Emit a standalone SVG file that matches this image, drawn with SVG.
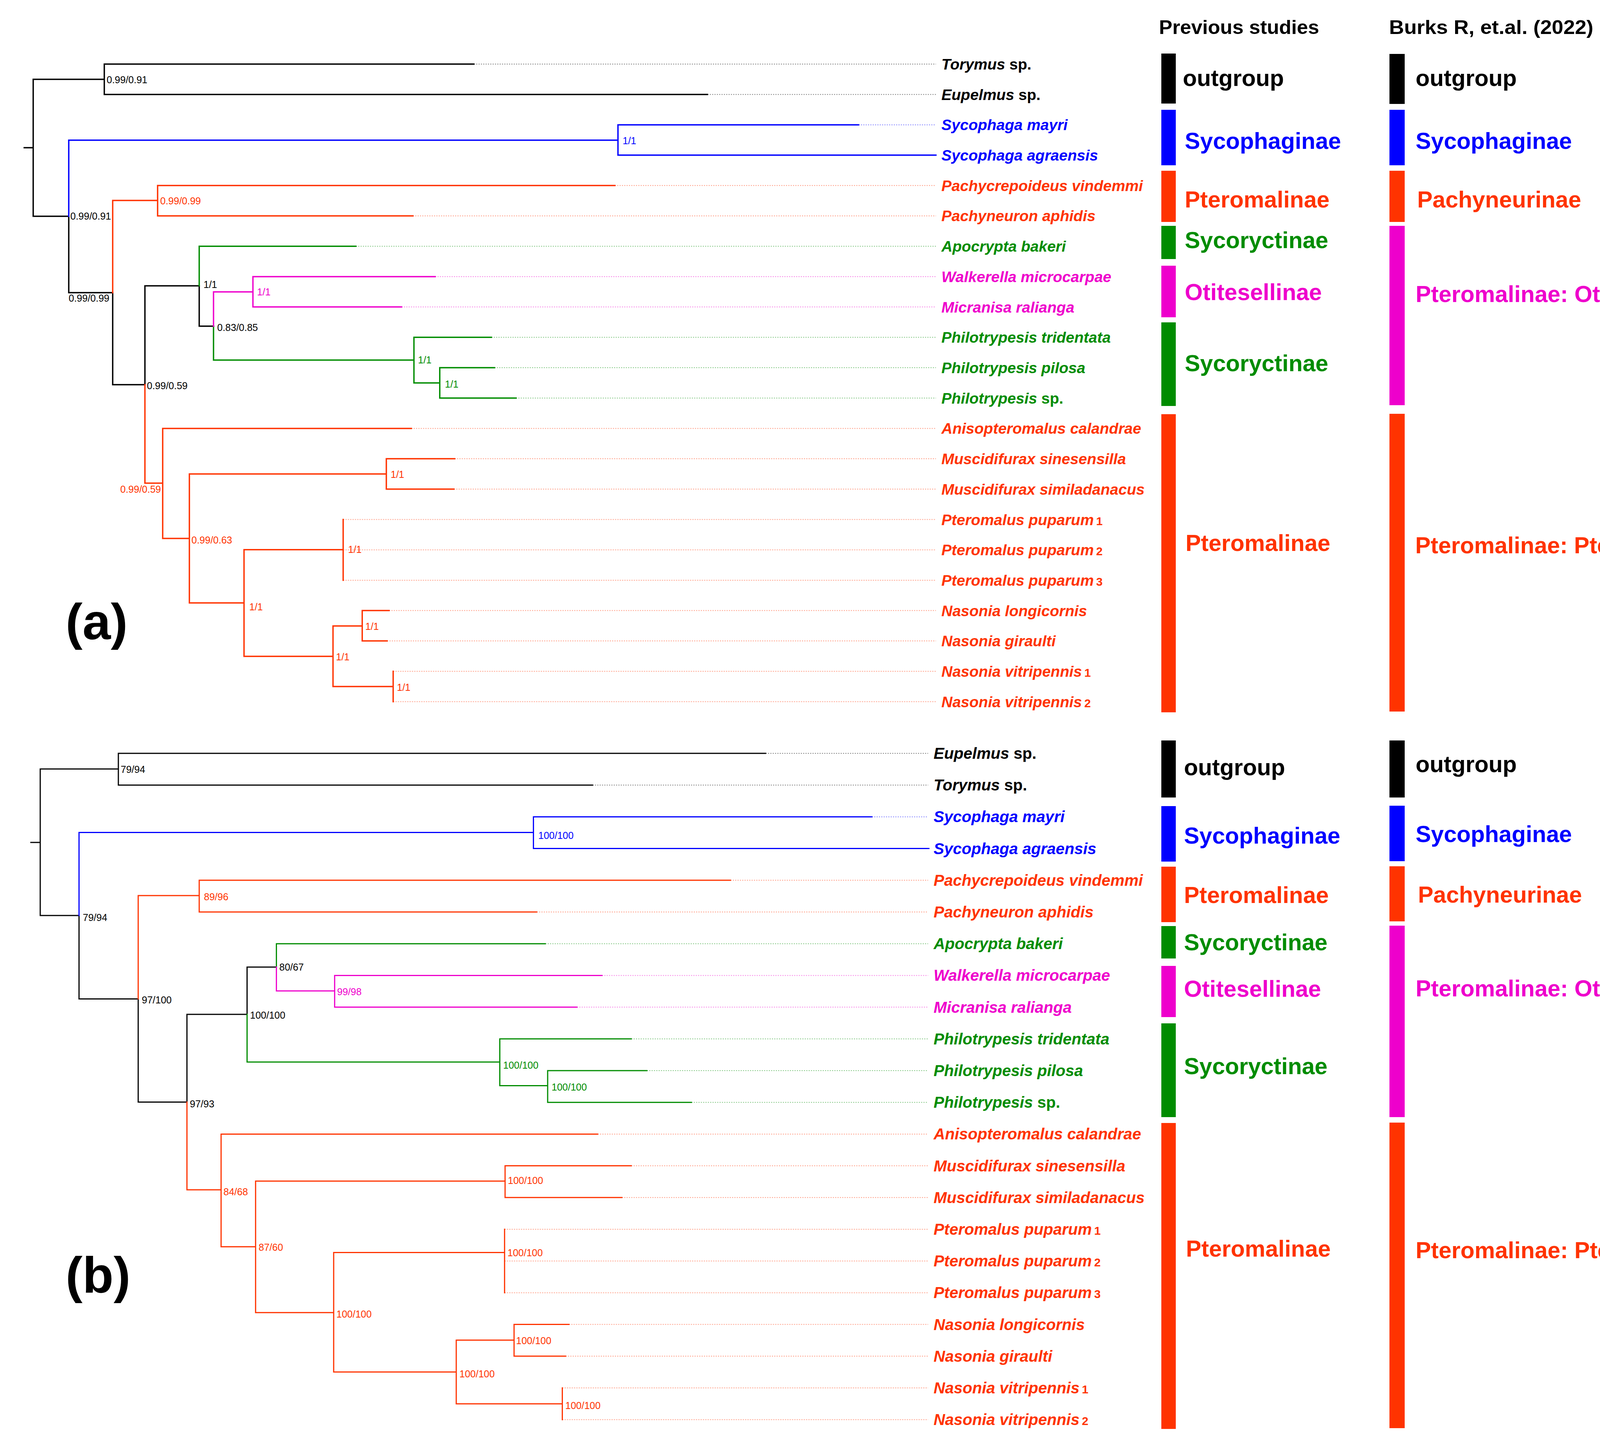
<svg xmlns="http://www.w3.org/2000/svg" width="4402" height="3693" viewBox="0 0 4402 3693">
<style>
path{fill:none;stroke-linecap:square}
.A path{stroke-width:3.5}
.B path{stroke-width:3}
.k{stroke:#000}.b{stroke:#0000FF}.r{stroke:#FF3300}.g{stroke:#008C00}.m{stroke:#EE00CC}
.dot path{stroke-width:2;stroke-dasharray:3 3;opacity:.45;stroke-linecap:butt}
text{font-family:"Liberation Sans",Arial,sans-serif}
.spA{font-size:39px;font-weight:bold;font-style:italic}
.spB{font-size:40.5px;font-weight:bold;font-style:italic}
.sup{font-size:25px}
.grp{font-size:59px;font-weight:bold}
.hdr{font-size:50px;font-weight:bold}
.lbl{font-size:130px;font-weight:bold}
.tk{fill:#000}.tb{fill:#0000FF}.tr{fill:#FF3300}.tg{fill:#008C00}.tm{fill:#EE00CC}
.num{font-style:normal;font-size:30px}
</style>
<rect width="4402" height="3693" fill="#fff"/>

<g id="connectors">
<g class="A">
<path class="k" d="M62,378H85M85,203V553.6M85,203H267M267,164V241.7M267,164H1213M267,241.7H1811M85,553.6H176M176,553.6V749M176,749H288.5M288.5,749V984.6M288.5,984.6H371M371,731.6V984.6M371,731.6H510M510,731.6V834.7M510,834.7H546.6"/>
<path class="b" d="M176,358.7V553.6M176,358.7H1582M1582,319.4V397.1M1582,319.4H2198M1582,397.1H2396"/>
<path class="r" d="M288.5,513V749M288.5,513H403.5M403.5,474.8V552.5M403.5,474.8H1574M403.5,552.5H1057"/>
<path class="g" d="M510,630.2V731.6M510,630.2H911M546.6,834.7V921.4M546.6,921.4H1059.7M1059.7,863.3V980M1059.7,863.3H1258M1059.7,980H1125.8M1125.8,941V1018.7M1125.8,941H1266M1125.8,1018.7H1321"/>
<path class="m" d="M546.6,747V834.7M546.6,747H647.5M647.5,707.9V785.6M647.5,707.9H1114M647.5,785.6H1028"/>
<path class="r" d="M371,984.6V1236.5M371,1236.5H416.5M416.5,1096.4V1378M416.5,1096.4H1053M416.5,1378H484.8M484.8,1213V1543M484.8,1213H989M989,1174.1V1251.8M989,1174.1H1164M989,1251.8H1162M484.8,1543H624.7M624.7,1406.8V1679.7M624.7,1406.8H878.5M878.5,1329.5V1484.9M624.7,1679.7H852.5M852.5,1602V1757M852.5,1602H927.3M927.3,1562.6V1640.3M927.3,1562.6H996M927.3,1640.3H991M852.5,1757H1006.5M1006.5,1718V1795.7"/>
</g>
<g class="dot">
<path class="k" d="M1213,164H2396M1811,241.7H2396"/>
<path class="b" d="M2198,319.4H2396"/>
<path class="r" d="M1574,474.8H2396M1057,552.5H2396M1053,1096.4H2396M1164,1174.1H2396M1162,1251.8H2396M878.5,1329.5H2396M878.5,1407.2H2396M878.5,1484.9H2396M996,1562.6H2396M991,1640.3H2396M1006.5,1718H2396M1006.5,1795.7H2396"/>
<path class="g" d="M911,630.2H2396M1258,863.3H2396M1266,941H2396M1321,1018.7H2396"/>
<path class="m" d="M1114,707.9H2396M1028,785.6H2396"/>
</g>
<g class="B">
<path class="k" d="M79,2156H103M103,1968V2343M103,1968H303M303,1928V2009.2M303,1928H1960M303,2009.2H1517M103,2343H202.3M202.3,2343V2556.6M202.3,2556.6H353.8M353.8,2556.6V2820.6M353.8,2820.6H478.6M478.6,2596V2820.6M478.6,2596H632.5M632.5,2475V2596M632.5,2475H707.6"/>
<path class="b" d="M202.3,2130.6V2343M202.3,2130.6H1365.6M1365.6,2090.4V2171.6M1365.6,2090.4H2232M1365.6,2171.6H2378"/>
<path class="r" d="M353.8,2292V2556.6M353.8,2292H510M510,2252.8V2334M510,2252.8H1870M510,2334H1374"/>
<path class="g" d="M707.6,2415.2V2475M707.6,2415.2H1396M632.5,2596V2718M632.5,2718H1279.5M1279.5,2658.8V2778.6M1279.5,2658.8H1616M1279.5,2778.6H1402M1402,2740V2821.2M1402,2740H1656M1402,2821.2H1770"/>
<path class="m" d="M707.6,2475V2536M707.6,2536H856.7M856.7,2496.4V2577.6M856.7,2496.4H1541M856.7,2577.6H1477"/>
<path class="r" d="M478.6,2820.6V3045M478.6,3045H566M566,2902.4V3190.7M566,2902.4H1530M566,3190.7H654.3M654.3,3022.7V3359.2M654.3,3022.7H1293M1293,2983.6V3064.8M1293,2983.6H1616M1293,3064.8H1592M654.3,3359.2H854.2M854.2,3205.5V3511.3M854.2,3205.5H1291.7M1291.7,3146V3308.4M854.2,3511.3H1168M1168,3429.8V3592.7M1168,3429.8H1316M1316,3389.6V3470.8M1316,3389.6H1456.5M1316,3470.8H1448M1168,3592.7H1439.5M1439.5,3552V3633.2"/>
</g>
<g class="dot">
<path class="k" d="M1960,1928H2376M1517,2009.2H2376"/>
<path class="b" d="M2232,2090.4H2376"/>
<path class="r" d="M1870,2252.8H2376M1374,2334H2376M1530,2902.4H2376M1616,2983.6H2376M1592,3064.8H2376M1291.7,3146H2376M1291.7,3227.2H2376M1291.7,3308.4H2376M1456.5,3389.6H2376M1448,3470.8H2376M1439.5,3552H2376M1439.5,3633.2H2376"/>
<path class="g" d="M1396,2415.2H2376M1616,2658.8H2376M1656,2740H2376M1770,2821.2H2376"/>
<path class="m" d="M1541,2496.4H2376M1477,2577.6H2376"/>
</g>
</g>

<g id="support-a" class="sup">
<text class="tk" x="273" y="213">0.99/0.91</text>
<text class="tb" x="1594" y="369">1/1</text>
<text class="tr" x="410" y="523">0.99/0.99</text>
<text class="tk" x="180" y="562">0.99/0.91</text>
<text class="tk" x="280" y="772" text-anchor="end">0.99/0.99</text>
<text class="tk" x="521" y="737">1/1</text>
<text class="tm" x="658" y="756">1/1</text>
<text class="tk" x="556" y="847">0.83/0.85</text>
<text class="tg" x="1070" y="930">1/1</text>
<text class="tg" x="1139" y="992">1/1</text>
<text class="tk" x="376" y="996">0.99/0.59</text>
<text class="tr" x="412" y="1261" text-anchor="end">0.99/0.59</text>
<text class="tr" x="1000" y="1223">1/1</text>
<text class="tr" x="490" y="1391">0.99/0.63</text>
<text class="tr" x="891" y="1415">1/1</text>
<text class="tr" x="638" y="1562">1/1</text>
<text class="tr" x="935" y="1612">1/1</text>
<text class="tr" x="860" y="1690">1/1</text>
<text class="tr" x="1016" y="1768">1/1</text>
</g>

<g id="support-b" class="sup">
<text class="tk" x="309" y="1978">79/94</text>
<text class="tb" x="1378" y="2147">100/100</text>
<text class="tr" x="522" y="2304">89/96</text>
<text class="tk" x="212" y="2357">79/94</text>
<text class="tk" x="715" y="2484">80/67</text>
<text class="tm" x="863" y="2547">99/98</text>
<text class="tk" x="363" y="2568">97/100</text>
<text class="tk" x="640" y="2607">100/100</text>
<text class="tg" x="1288" y="2735">100/100</text>
<text class="tg" x="1412" y="2791">100/100</text>
<text class="tk" x="486" y="2834">97/93</text>
<text class="tr" x="1300" y="3030">100/100</text>
<text class="tr" x="572" y="3059">84/68</text>
<text class="tr" x="662" y="3201">87/60</text>
<text class="tr" x="1299" y="3215">100/100</text>
<text class="tr" x="861" y="3372">100/100</text>
<text class="tr" x="1321" y="3440">100/100</text>
<text class="tr" x="1176" y="3525">100/100</text>
<text class="tr" x="1447" y="3606">100/100</text>
</g>

<g id="tips-a" class="spA">
<text id="a-torymus" class="tk" x="2410" y="178">Torymus <tspan font-style="normal">sp.</tspan></text>
<text id="a-eupelmus" class="tk" x="2410" y="256">Eupelmus <tspan font-style="normal">sp.</tspan></text>
<text id="a-smayri" class="tb" x="2410" y="333">Sycophaga mayri</text>
<text id="a-sagra" class="tb" x="2410" y="411">Sycophaga agraensis</text>
<text id="a-pachyc" class="tr" x="2410" y="489">Pachycrepoideus vindemmi</text>
<text id="a-pachyn" class="tr" x="2410" y="566">Pachyneuron aphidis</text>
<text id="a-apoc" class="tg" x="2410" y="644">Apocrypta bakeri</text>
<text id="a-walk" class="tm" x="2410" y="722">Walkerella microcarpae</text>
<text id="a-micr" class="tm" x="2410" y="800">Micranisa ralianga</text>
<text id="a-ptri" class="tg" x="2410" y="877">Philotrypesis tridentata</text>
<text id="a-ppil" class="tg" x="2410" y="955">Philotrypesis pilosa</text>
<text id="a-psp" class="tg" x="2410" y="1033">Philotrypesis <tspan font-style="normal">sp.</tspan></text>
<text id="a-aniso" class="tr" x="2410" y="1110">Anisopteromalus calandrae</text>
<text id="a-msin" class="tr" x="2410" y="1188">Muscidifurax sinesensilla</text>
<text id="a-msim" class="tr" x="2410" y="1266">Muscidifurax similadanacus</text>
<text id="a-pp1" class="tr" x="2410" y="1344">Pteromalus puparum<tspan class="num" dx="6">1</tspan></text>
<text id="a-pp2" class="tr" x="2410" y="1421">Pteromalus puparum<tspan class="num" dx="6">2</tspan></text>
<text id="a-pp3" class="tr" x="2410" y="1499">Pteromalus puparum<tspan class="num" dx="6">3</tspan></text>
<text id="a-nlon" class="tr" x="2410" y="1577">Nasonia longicornis</text>
<text id="a-ngir" class="tr" x="2410" y="1654">Nasonia giraulti</text>
<text id="a-nv1" class="tr" x="2410" y="1732">Nasonia vitripennis<tspan class="num" dx="6">1</tspan></text>
<text id="a-nv2" class="tr" x="2410" y="1810">Nasonia vitripennis<tspan class="num" dx="6">2</tspan></text>
</g>

<g id="tips-b" class="spB">
<text id="b-eupelmus" class="tk" x="2390" y="1942">Eupelmus <tspan font-style="normal">sp.</tspan></text>
<text id="b-torymus" class="tk" x="2390" y="2023">Torymus <tspan font-style="normal">sp.</tspan></text>
<text id="b-smayri" class="tb" x="2390" y="2104">Sycophaga mayri</text>
<text id="b-sagra" class="tb" x="2390" y="2186">Sycophaga agraensis</text>
<text id="b-pachyc" class="tr" x="2390" y="2267">Pachycrepoideus vindemmi</text>
<text id="b-pachyn" class="tr" x="2390" y="2348">Pachyneuron aphidis</text>
<text id="b-apoc" class="tg" x="2390" y="2429">Apocrypta bakeri</text>
<text id="b-walk" class="tm" x="2390" y="2510">Walkerella microcarpae</text>
<text id="b-micr" class="tm" x="2390" y="2592">Micranisa ralianga</text>
<text id="b-ptri" class="tg" x="2390" y="2673">Philotrypesis tridentata</text>
<text id="b-ppil" class="tg" x="2390" y="2754">Philotrypesis pilosa</text>
<text id="b-psp" class="tg" x="2390" y="2835">Philotrypesis <tspan font-style="normal">sp.</tspan></text>
<text id="b-aniso" class="tr" x="2390" y="2916">Anisopteromalus calandrae</text>
<text id="b-msin" class="tr" x="2390" y="2998">Muscidifurax sinesensilla</text>
<text id="b-msim" class="tr" x="2390" y="3079">Muscidifurax similadanacus</text>
<text id="b-pp1" class="tr" x="2390" y="3160">Pteromalus puparum<tspan class="num" dx="6">1</tspan></text>
<text id="b-pp2" class="tr" x="2390" y="3241">Pteromalus puparum<tspan class="num" dx="6">2</tspan></text>
<text id="b-pp3" class="tr" x="2390" y="3322">Pteromalus puparum<tspan class="num" dx="6">3</tspan></text>
<text id="b-nlon" class="tr" x="2390" y="3404">Nasonia longicornis</text>
<text id="b-ngir" class="tr" x="2390" y="3485">Nasonia giraulti</text>
<text id="b-nv1" class="tr" x="2390" y="3566">Nasonia vitripennis<tspan class="num" dx="6">1</tspan></text>
<text id="b-nv2" class="tr" x="2390" y="3647">Nasonia vitripennis<tspan class="num" dx="6">2</tspan></text>
</g>

<g id="panel-labels">
<text class="lbl tk" x="168" y="1636">(a)</text>
<text class="lbl tk" x="168" y="3308">(b)</text>
<text class="hdr tk" x="2967" y="87" textLength="410" lengthAdjust="spacingAndGlyphs">Previous studies</text>
<text class="hdr tk" x="3556" y="87" textLength="523" lengthAdjust="spacingAndGlyphs">Burks R, et.al. (2022)</text>
</g>

<g id="groups-a-previous">
<rect x="2973" y="137" width="37" height="128" fill="#000"/>
<rect x="2973" y="281" width="37" height="142" fill="#0000FF"/>
<rect x="2973" y="437" width="37" height="131" fill="#FF3300"/>
<rect x="2973" y="578" width="37" height="85" fill="#008C00"/>
<rect x="2973" y="680" width="37" height="132" fill="#EE00CC"/>
<rect x="2973" y="825" width="37" height="214" fill="#008C00"/>
<rect x="2973" y="1060" width="37" height="763" fill="#FF3300"/>
<text class="grp tk" x="3028" y="220">outgroup</text>
<text class="grp tb" x="3033" y="381">Sycophaginae</text>
<text class="grp tr" x="3033" y="531">Pteromalinae</text>
<text class="grp tg" x="3033" y="635">Sycoryctinae</text>
<text class="grp tm" x="3033" y="768">Otitesellinae</text>
<text class="grp tg" x="3033" y="950">Sycoryctinae</text>
<text class="grp tr" x="3035" y="1410">Pteromalinae</text>
</g>
<g id="groups-a-burks">
<rect x="3557" y="138" width="39" height="128" fill="#000"/>
<rect x="3557" y="281" width="39" height="142" fill="#0000FF"/>
<rect x="3557" y="437" width="39" height="131" fill="#FF3300"/>
<rect x="3557" y="578" width="39" height="459" fill="#EE00CC"/>
<rect x="3557" y="1059" width="39" height="762" fill="#FF3300"/>
<text class="grp tk" x="3624" y="220">outgroup</text>
<text class="grp tb" x="3624" y="381">Sycophaginae</text>
<text class="grp tr" x="3628" y="531">Pachyneurinae</text>
<text class="grp tm" x="3624" y="773">Pteromalinae: Otitesellini</text>
<text class="grp tr" x="3623" y="1416">Pteromalinae: Pteromalini</text>
</g>
<g id="groups-b-previous">
<rect x="2973" y="1895" width="37" height="146" fill="#000"/>
<rect x="2973" y="2063" width="37" height="142" fill="#0000FF"/>
<rect x="2973" y="2218" width="37" height="142" fill="#FF3300"/>
<rect x="2973" y="2370" width="37" height="83" fill="#008C00"/>
<rect x="2973" y="2472" width="37" height="131" fill="#EE00CC"/>
<rect x="2973" y="2619" width="37" height="240" fill="#008C00"/>
<rect x="2973" y="2874" width="37" height="783" fill="#FF3300"/>
<text class="grp tk" x="3031" y="1984">outgroup</text>
<text class="grp tb" x="3031" y="2159">Sycophaginae</text>
<text class="grp tr" x="3031" y="2311">Pteromalinae</text>
<text class="grp tg" x="3031" y="2432">Sycoryctinae</text>
<text class="grp tm" x="3031" y="2551">Otitesellinae</text>
<text class="grp tg" x="3031" y="2749">Sycoryctinae</text>
<text class="grp tr" x="3036" y="3216">Pteromalinae</text>
</g>
<g id="groups-b-burks">
<rect x="3557" y="1895" width="39" height="146" fill="#000"/>
<rect x="3557" y="2062" width="39" height="142" fill="#0000FF"/>
<rect x="3557" y="2217" width="39" height="141" fill="#FF3300"/>
<rect x="3557" y="2369" width="39" height="490" fill="#EE00CC"/>
<rect x="3557" y="2873" width="39" height="782" fill="#FF3300"/>
<text class="grp tk" x="3624" y="1976">outgroup</text>
<text class="grp tb" x="3624" y="2155">Sycophaginae</text>
<text class="grp tr" x="3630" y="2310">Pachyneurinae</text>
<text class="grp tm" x="3624" y="2550">Pteromalinae: Otitesellini</text>
<text class="grp tr" x="3624" y="3220">Pteromalinae: Pteromalini</text>
</g>
</svg>
